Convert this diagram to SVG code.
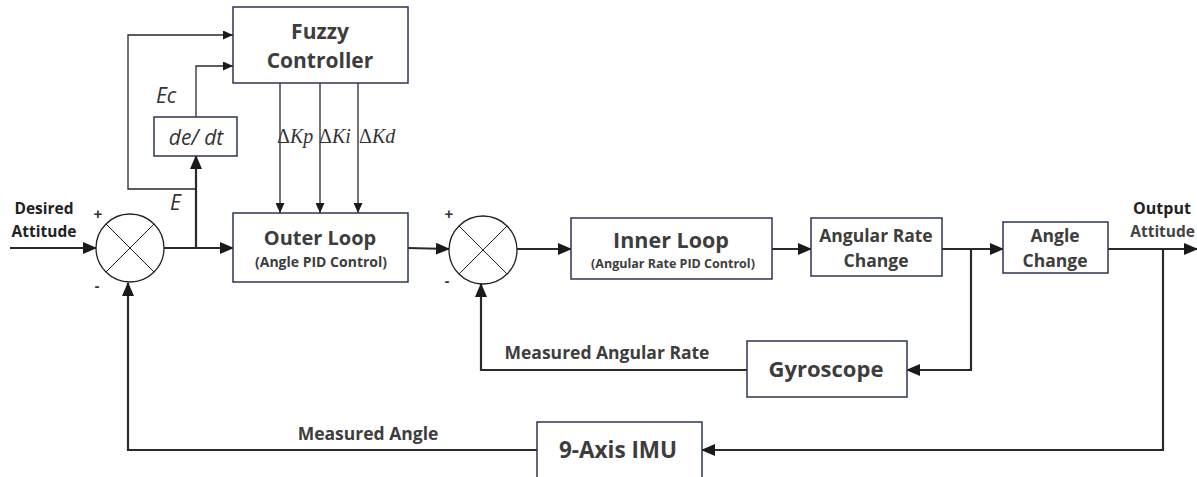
<svg xmlns="http://www.w3.org/2000/svg" width="1197" height="477" viewBox="0 0 1197 477">
<defs>
<marker id="arr" markerUnits="userSpaceOnUse" markerWidth="14" markerHeight="12" refX="13" refY="6" orient="auto"><path d="M0,0 L14,6 L0,12 Z" fill="#1a1a1a"/></marker>
<marker id="arrs" markerUnits="userSpaceOnUse" markerWidth="10" markerHeight="9" refX="10" refY="4.5" orient="auto"><path d="M0,0 L10,4.5 L0,9 Z" fill="#1a1a1a"/></marker>
<style>
.box{fill:#fff;stroke:#2b3553;stroke-width:1.5}
.sum{fill:#fff;stroke:#222;stroke-width:1.3}
.x{stroke:#222;stroke-width:1}
.ln{fill:none;stroke:#2a2a2a;stroke-width:2.2}
.thin{fill:none;stroke:#2a2a2a;stroke-width:1.3}
.t{font-family:"Open Sans","Liberation Sans",sans-serif;font-weight:bold;fill:#3d3d3d;text-anchor:middle}
.lbl{font-family:"Open Sans","Liberation Sans",sans-serif;font-weight:bold;fill:#222;text-anchor:middle}
.it{font-family:"Open Sans","Liberation Sans",sans-serif;font-style:italic;fill:#333}
.dk{font-family:"Liberation Serif","Times New Roman",serif;fill:#333;font-size:20px}
.sg{font-family:"Liberation Sans",sans-serif;font-weight:bold;fill:#333;font-size:15px;text-anchor:middle}
</style>
</defs>
<rect width="1197" height="477" fill="#fff"/>
<g id="connectors">
<path class="ln" d="M10,248 L96,248" marker-end="url(#arr)"/>
<path class="ln" d="M164,248 L233,248" marker-end="url(#arr)"/>
<path class="ln" d="M196,248 L196,156" marker-end="url(#arr)"/>
<path class="thin" d="M196,189 L128,189 L128,35 L233,35" marker-end="url(#arrs)"/>
<path class="thin" d="M196,117 L196,66 L233,66" marker-end="url(#arrs)"/>
<path class="thin" d="M280,83 L280,213" marker-end="url(#arrs)"/>
<path class="thin" d="M320,83 L320,213" marker-end="url(#arrs)"/>
<path class="thin" d="M358,83 L358,213" marker-end="url(#arrs)"/>
<path class="ln" d="M408,248 L449,249" marker-end="url(#arr)"/>
<path class="ln" d="M517,249 L571,249" marker-end="url(#arr)"/>
<path class="ln" d="M772,249 L811,249" marker-end="url(#arr)"/>
<path class="ln" d="M942,249 L1003,249" marker-end="url(#arr)"/>
<path class="ln" d="M971,249 L971,370 L907,370" marker-end="url(#arr)"/>
<path class="ln" d="M747,370 L481,370 L481,284" marker-end="url(#arr)"/>
<path class="ln" d="M1108,249 L1197,249" marker-end="url(#arr)"/>
<path class="ln" d="M1163,249 L1163,450 L702,450" marker-end="url(#arr)"/>
<path class="ln" d="M537,450 L128,450 L128,283" marker-end="url(#arr)"/>
</g>
<g id="sum1">
<circle class="sum" cx="130" cy="248" r="34"/>
<line class="x" x1="106" y1="224" x2="154" y2="272"/>
<line class="x" x1="154" y1="224" x2="106" y2="272"/>
<text class="sg" x="98" y="219">+</text>
<text class="sg" x="97" y="291">-</text>
</g>
<g id="sum2">
<circle class="sum" cx="483" cy="250" r="34"/>
<line class="x" x1="459" y1="226" x2="507" y2="274"/>
<line class="x" x1="507" y1="226" x2="459" y2="274"/>
<text class="sg" x="449" y="219">+</text>
<text class="sg" x="447" y="286">-</text>
</g>
<g id="fuzzy">
<rect class="box" x="233" y="7" width="175" height="76"/>
<text class="t" x="320" y="39" font-size="21">Fuzzy</text>
<text class="t" x="320" y="68" font-size="21">Controller</text>
</g>
<g id="dedt">
<rect class="box" x="154" y="117" width="83" height="39"/>
<text class="it" x="196" y="145" font-size="21" text-anchor="middle">de/ dt</text>
</g>
<g id="outer">
<rect class="box" x="233" y="213" width="175" height="69"/>
<text class="t" x="320" y="245" font-size="20">Outer Loop</text>
<text class="t" x="321" y="267" font-size="14">(Angle PID Control)</text>
</g>
<g id="inner">
<rect class="box" x="571" y="218" width="201" height="61"/>
<text class="t" x="671" y="248" font-size="21.5">Inner Loop</text>
<text class="t" x="673" y="268" font-size="12.5">(Angular Rate PID Control)</text>
</g>
<g id="arc">
<rect class="box" x="811" y="218" width="131" height="58"/>
<text class="t" x="876" y="242" font-size="17.5">Angular Rate</text>
<text class="t" x="876" y="267" font-size="17.5">Change</text>
</g>
<g id="angle">
<rect class="box" x="1003" y="222" width="105" height="51"/>
<text class="t" x="1055" y="242" font-size="17.5">Angle</text>
<text class="t" x="1055" y="267" font-size="17.5">Change</text>
</g>
<g id="gyro">
<rect class="box" x="747" y="341" width="160" height="56"/>
<text class="t" x="826" y="377" font-size="22">Gyroscope</text>
</g>
<g id="imu">
<rect class="box" x="537" y="422" width="165" height="70"/>
<text class="t" x="618" y="458" font-size="22.5">9-Axis IMU</text>
</g>
<g id="labels">
<text class="lbl" x="44" y="214" font-size="15.5">Desired</text>
<text class="lbl" x="44" y="237" font-size="15.5">Attitude</text>
<text class="lbl" x="1162" y="214" font-size="16" fill="#444">Output</text>
<text class="lbl" x="1195" y="237" font-size="15.5" style="text-anchor:end;fill:#444">Attitude</text>
<text class="it" x="156" y="103" font-size="21">Ec</text>
<text class="it" x="170" y="210" font-size="21">E</text>
<text class="dk" x="277" y="143">Δ<tspan font-style="italic">Kp</tspan></text>
<text class="dk" x="319" y="143">Δ<tspan font-style="italic">Ki</tspan></text>
<text class="dk" x="359" y="143">Δ<tspan font-style="italic">Kd</tspan></text>
<text class="t" x="607" y="359" font-size="17.5" fill="#444">Measured Angular Rate</text>
<text class="t" x="368" y="440" font-size="17.5" fill="#444">Measured Angle</text>
</g>
</svg>
